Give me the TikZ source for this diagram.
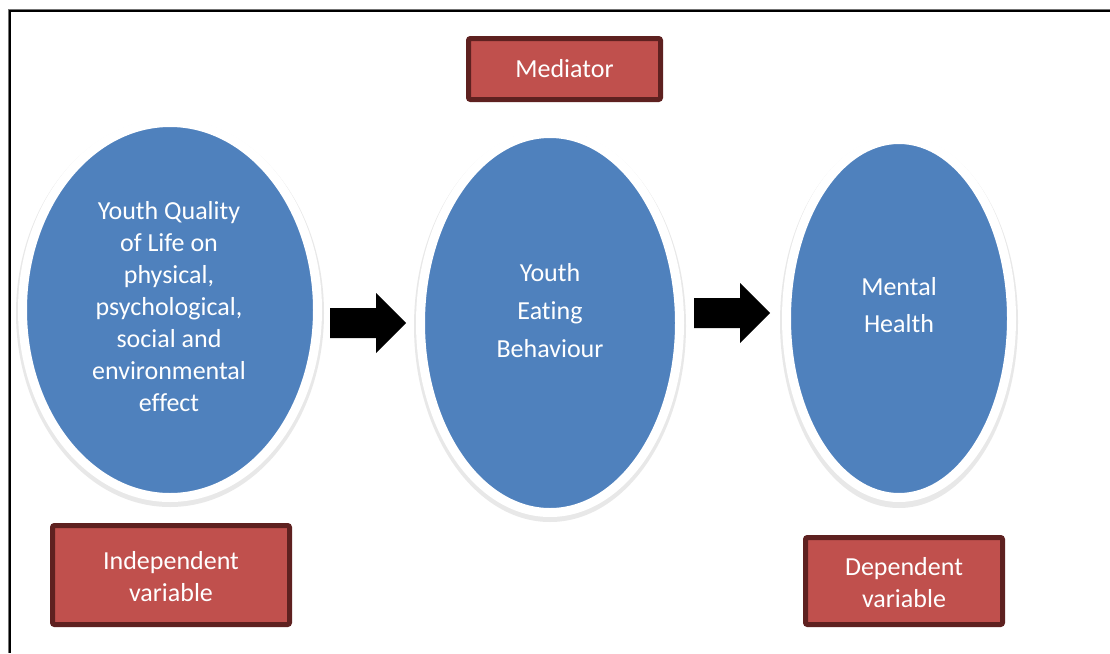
\documentclass[tikz,border=0pt]{standalone}
\usepackage{fontspec}
\setmainfont{Carlito}[Ligatures=NoCommon]
\usetikzlibrary{shapes.geometric}
\definecolor{ellblue}{HTML}{4F81BD}
\definecolor{boxred}{HTML}{C0504D}
\definecolor{boxedge}{HTML}{5E2120}
\tikzset{
  oval/.style={ellipse, fill=ellblue, draw=white, line width=9pt, inner sep=0pt},
  ovalshadow/.style={fill=black!9},
  ovaltext/.style={text=white, align=center, font=\fontsize{26}{32}\selectfont, inner sep=0pt},
  tagbox/.style={rectangle, rounded corners=2pt, fill=boxred, draw=boxedge, line width=5pt,
     text=white, align=center, font=\fontsize{26}{32}\selectfont, inner sep=0pt},
  blockarrow/.pic={\fill[black] (0,-15) -- (46,-15) -- (46,-30) -- (76,0) -- (46,30) -- (46,15) -- (0,15) -- cycle;}
}
\begin{document}
\begin{tikzpicture}[x=1pt,y=-1pt]
\useasboundingbox (0,0) rectangle (1110,653);
\fill[white] (0,0) rectangle (1110,653);
% frame
\draw[black!55, line width=1pt] (8,653) -- (8,9) -- (1110,9);
\draw[black, line width=1.6pt] (9.8,653) -- (9.8,10.8) -- (1110,10.8);

% shadows
\fill[ovalshadow] (170,313) ellipse [x radius=154pt, y radius=194pt];
\fill[ovalshadow] (550,326) ellipse [x radius=136pt, y radius=196pt];
\fill[ovalshadow] (899,322) ellipse [x radius=119pt, y radius=186pt];

% ellipses
\node[oval, minimum width=295pt, minimum height=375pt] (e1) at (170,310) {};
\node[oval, minimum width=259pt, minimum height=379pt] (e2) at (550,323) {};
\node[oval, minimum width=225pt, minimum height=358pt] (e3) at (899,318.5) {};

% texts
\node[ovaltext] (t1) at (169,307) {Youth Quality\\of Life on\\physical,\\psychological,\\social and\\environmental\\effect};
\node[ovaltext, font=\fontsize{26}{38}\selectfont] (t2) at (550,311) {Youth\\Eating\\Behaviour};
\node[ovaltext, font=\fontsize{26}{37}\selectfont] (t3) at (899,305) {Mental\\Health};

% block arrows
\coordinate (a1) at (330,323);
\coordinate (a2) at (694,313);
\pic at (a1) {blockarrow};
\pic at (a2) {blockarrow};

% tags
\node[tagbox, minimum width=192pt, minimum height=61pt] (med) at (564.5,69) {Mediator};
\node[tagbox, minimum width=237pt, minimum height=99pt] (ind) at (171,575) {\raisebox{-4pt}[\height][\depth]{\begin{tabular}{@{}c@{}}Independent\\variable\end{tabular}}};
\node[tagbox, minimum width=197pt, minimum height=87pt] (dep) at (904,581) {\raisebox{-4.5pt}[\height][\depth]{\begin{tabular}{@{}c@{}}Dependent\\variable\end{tabular}}};
\end{tikzpicture}
\end{document}
